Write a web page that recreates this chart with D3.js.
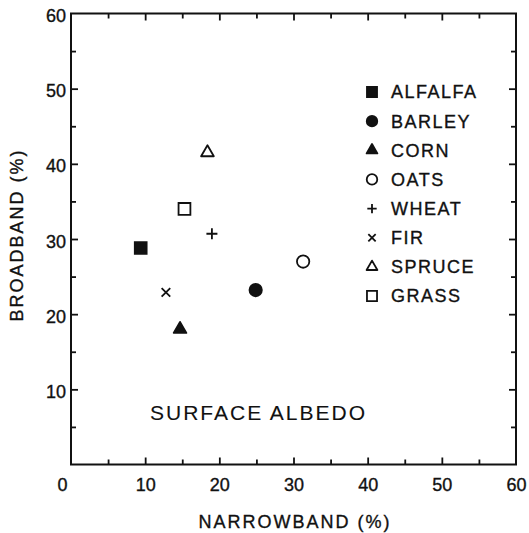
<!DOCTYPE html>
<html>
<head>
<meta charset="utf-8">
<script src="https://cdn.jsdelivr.net/npm/d3@7"></script>
<style>
  body { margin: 0; background: #fff; }
  svg text { font-family: "Liberation Sans", Arial, sans-serif; fill: #111; stroke: #111; stroke-width: 0.35px; }
</style>
</head>
<body>
<div id="chart"></div>
<script>
// chart size
var svgWidth = 529;
var svgHeight = 533;

// data
var crops = ["ALFALFA", "BARLEY", "CORN", "OATS", "WHEAT", "FIR", "SPRUCE", "GRASS"];
var markers = ["squareFill", "circleFill", "triangleFill", "circle", "plus", "times", "triangle", "square"];
var narrowband = [9.4, 24.9, 14.7, 31.3, 19.0, 12.8, 18.4, 15.3];
var broadband = [28.8, 23.2, 18.0, 27.0, 30.7, 22.9, 41.5, 34.0];

var axisTicks = [10, 20, 30, 40, 50, 60];
var xLabelTicks = [0, 10, 20, 30, 40, 50, 60];

var svg = d3.select("#chart")
  .append("svg")
  .attr("width", svgWidth)
  .attr("height", svgHeight);

var x = d3.scaleLinear().domain([0, 60]).range([71, 516]);
var y = d3.scaleLinear().domain([0, 60]).range([464.5, 13.5]);

var minor = d3.range(5, 60, 10);
var major = d3.range(10, 60, 10);

// draws inward ticks for one side
function tickSide(axisFn, scale, values, size, transform) {
  svg.append("g")
    .attr("transform", transform)
    .call(axisFn(scale).tickValues(values).tickSize(-size).tickFormat(""))
    .call(g => g.select(".domain").remove())
    .selectAll("line").attr("stroke", "#111").attr("stroke-width", 1.8);
}

tickSide(d3.axisBottom, x, major, 7, `translate(0,${y(0)})`);
tickSide(d3.axisBottom, x, minor, 5, `translate(0,${y(0)})`);
tickSide(d3.axisTop, x, major, 7, `translate(0,${y(60)})`);
tickSide(d3.axisTop, x, minor, 5, `translate(0,${y(60)})`);
tickSide(d3.axisLeft, y, major, 7, `translate(${x(0)},0)`);
tickSide(d3.axisLeft, y, minor, 5, `translate(${x(0)},0)`);
tickSide(d3.axisRight, y, major, 7, `translate(${x(60)},0)`);
tickSide(d3.axisRight, y, minor, 5, `translate(${x(60)},0)`);

// frame
svg.append("rect")
  .attr("x", x(0))
  .attr("y", y(60))
  .attr("width", x(60) - x(0))
  .attr("height", y(0) - y(60))
  .attr("fill", "none")
  .attr("stroke", "#111")
  .attr("stroke-width", 2);

// tick labels
var xLab = svg.append("g")
  .attr("transform", `translate(0,${y(0)})`)
  .call(d3.axisBottom(x).tickValues(xLabelTicks).tickSize(0).tickPadding(14))
  .call(g => g.select(".domain").remove());
xLab.selectAll("text")
  .attr("font-size", 18)
  .attr("font-family", "Liberation Sans, Arial, sans-serif")
  .attr("fill", "#111")
  .attr("dx", d => d === 0 ? -9 : 0);

var yLab = svg.append("g")
  .attr("transform", `translate(${x(0)},0)`)
  .call(d3.axisLeft(y).tickValues(axisTicks).tickSize(0).tickPadding(5))
  .call(g => g.select(".domain").remove());
yLab.selectAll("text")
  .attr("font-size", 18)
  .attr("font-family", "Liberation Sans, Arial, sans-serif")
  .attr("fill", "#111")
  .attr("dy", "0.45em");

// axis titles
svg.append("text")
  .attr("x", 295)
  .attr("y", 528)
  .attr("text-anchor", "middle")
  .attr("font-size", 18)
  .attr("letter-spacing", 2)
  .text("NARROWBAND (%)");

svg.append("text")
  .attr("transform", "translate(23,235) rotate(-90)")
  .attr("text-anchor", "middle")
  .attr("font-size", 18)
  .attr("letter-spacing", 2)
  .text("BROADBAND (%)");

svg.append("text")
  .attr("x", 150)
  .attr("y", 419.5)
  .attr("font-size", 21)
  .attr("letter-spacing", 2)
  .style("stroke-width", "0.1px")
  .text("SURFACE ALBEDO");

// marker drawing
function drawMarker(g, type, s) {
  var k = s || 1;
  if (type === "squareFill" || type === "square") {
    g.append("path").attr("d", d3.symbol(d3.symbolSquare, 140 * k * k)())
      .attr("fill", type === "squareFill" ? "#111" : "none")
      .attr("stroke", "#111").attr("stroke-width", 1.8);
  } else if (type === "circleFill" || type === "circle") {
    g.append("path").attr("d", d3.symbol(d3.symbolCircle, 120 * k * k)())
      .attr("fill", type === "circleFill" ? "#111" : "none")
      .attr("stroke", "#111").attr("stroke-width", 1.8);
  } else if (type === "triangleFill" || type === "triangle") {
    g.append("path").attr("d", d3.symbol(d3.symbolTriangle, 70 * k * k)())
      .attr("fill", type === "triangleFill" ? "#111" : "none")
      .attr("stroke", "#111").attr("stroke-width", 1.8)
      .attr("stroke-linejoin", "round");
  } else if (type === "plus") {
    var r = 5.5 * k;
    g.append("path").attr("d", `M${-r},0H${r}M0,${-r}V${r}`)
      .attr("stroke", "#111").attr("stroke-width", 1.8);
  } else if (type === "times") {
    var t = 4.3 * k;
    g.append("path").attr("d", `M${-t},${-t}L${t},${t}M${-t},${t}L${t},${-t}`)
      .attr("stroke", "#111").attr("stroke-width", 1.8);
  }
}

// points
crops.forEach(function(c, i) {
  var g = svg.append("g")
    .attr("transform", `translate(${x(narrowband[i])},${y(broadband[i])})`);
  drawMarker(g, markers[i], 1);
});

// legend
var legendY = d3.scalePoint().domain(crops).range([92, 296]);
crops.forEach(function(c, i) {
  var g = svg.append("g")
    .attr("transform", `translate(372,${legendY(c)})`);
  drawMarker(g, markers[i], 0.85);
  g.append("text")
    .attr("x", 19)
    .attr("dy", "0.36em")
    .attr("font-size", 18)
    .attr("letter-spacing", 1.5)
    .text(c);
});
</script>
</body>
</html>
